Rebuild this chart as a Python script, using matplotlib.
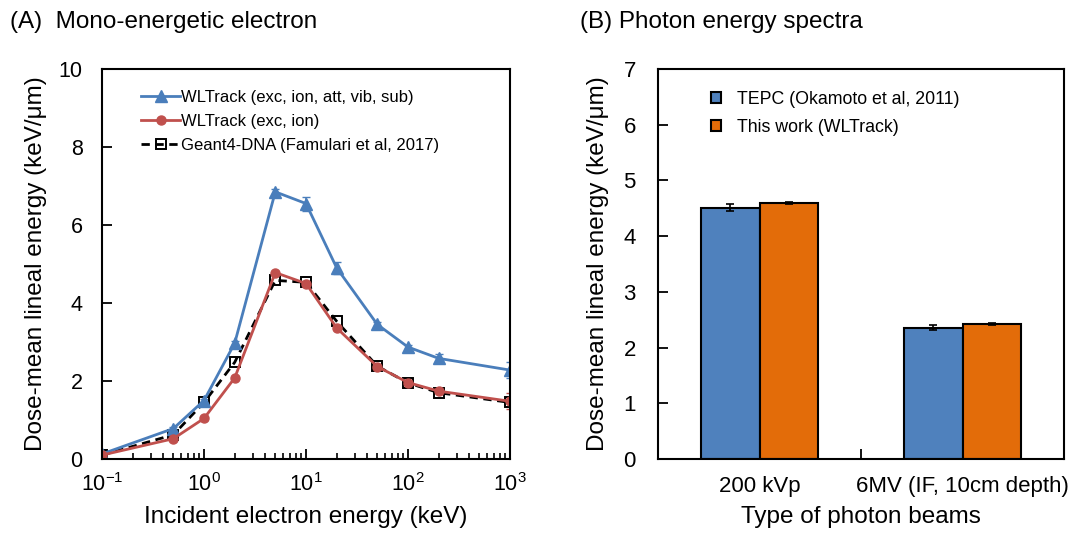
import matplotlib
matplotlib.use("Agg")
import matplotlib.pyplot as plt
import numpy as np
from matplotlib.ticker import LogLocator, NullFormatter
from matplotlib.lines import Line2D

plt.rcParams['font.family'] = ['Liberation Sans', 'DejaVu Sans']

# ---- Panel A data ----
energy_keV = [0.1, 0.5, 1, 2, 5, 10, 20, 50, 100, 200, 1000]
wl_full = [0.13, 0.78, 1.5, 2.97, 6.85, 6.55, 4.9, 3.45, 2.87, 2.58, 2.28]
wl_full_err = [0.02, 0.03, 0.05, 0.05, 0.08, 0.18, 0.15, 0.06, 0.06, 0.1, 0.2]
wl_exc_ion = [0.1, 0.52, 1.04, 2.08, 4.78, 4.5, 3.36, 2.37, 1.96, 1.74, 1.48]
wl_exc_ion_err = [0.02, 0.02, 0.03, 0.04, 0.05, 0.06, 0.06, 0.05, 0.05, 0.06, 0.2]
g4dna = [0.1, 0.62, 1.45, 2.48, 4.58, 4.53, 3.53, 2.38, 1.95, 1.7, 1.45]

# ---- Panel B data ----
beams = ["200 kVp", "6MV (IF, 10cm depth)"]
tepc = [4.51, 2.36]
tepc_err = [0.06, 0.05]
wltrack = [4.6, 2.43]
wltrack_err = [0.02, 0.02]

blue = "#4A7EBB"
red = "#C0504D"
bar_blue = "#4F81BD"
bar_orange = "#E36C09"

fig = plt.figure(figsize=(10.83, 5.33), dpi=100)
axA = fig.add_axes([102/1083, 1 - 459/533, 408/1083, 390/533])
axB = fig.add_axes([658/1083, 1 - 459/533, 406/1083, 390/533])

# Panel A
labels_A = ["WLTrack (exc, ion, att, vib, sub)", "WLTrack (exc, ion)",
            "Geant4-DNA (Famulari et al, 2017)"]
axA.errorbar(energy_keV, wl_full, yerr=wl_full_err, color=blue, marker='^', ms=9,
             lw=2, capsize=3, elinewidth=1.2)
axA.errorbar(energy_keV, wl_exc_ion, yerr=wl_exc_ion_err, color=red, marker='o', ms=6.5,
             lw=2, capsize=3, elinewidth=1.2)
axA.plot(energy_keV, g4dna, color='black', ls=(0, (3, 2)), lw=2, marker='s', ms=7,
         mfc='none', mec='black', mew=1.4)
handles_A = [
    Line2D([], [], color=blue, marker='^', ms=9, lw=2),
    Line2D([], [], color=red, marker='o', ms=6.5, lw=2),
    Line2D([], [], color='black', ls=(0, (3, 2)), lw=2, marker='s', ms=7,
           mfc='none', mec='black', mew=1.4),
]
axA.set_xscale('log')
axA.set_xlim(0.1, 1000)
axA.set_ylim(0, 10)
axA.set_yticks([0, 2, 4, 6, 8, 10])
axA.xaxis.set_minor_locator(LogLocator(base=10, subs=np.arange(2, 10), numticks=20))
axA.xaxis.set_minor_formatter(NullFormatter())
axA.tick_params(axis='y', which='major', direction='in', length=7, width=1.3,
                labelsize=15.5, pad=14)
axA.tick_params(axis='x', which='major', direction='in', length=7, width=1.3,
                labelsize=15.5, pad=10)
axA.tick_params(axis='x', which='minor', direction='in', length=4, width=1.2)
axA.set_xlabel("Incident electron energy (keV)", fontsize=17.5, labelpad=7)
axA.set_ylabel("Dose-mean lineal energy (keV/μm)", fontsize=17.5, labelpad=8)
axA.legend(handles_A, labels_A, loc='upper left', bbox_to_anchor=(0.06, 0.985),
           frameon=False, fontsize=12, handlelength=2.3, handletextpad=0.1,
           labelspacing=0.55)

# Panel B
x = np.arange(len(beams))
w = 0.286
axB.bar(x - w/2, tepc, w, yerr=tepc_err, color=bar_blue, edgecolor='black', lw=1.5,
        capsize=3, error_kw=dict(elinewidth=1.2, capthick=1.2), label="TEPC (Okamoto et al, 2011)")
axB.bar(x + w/2, wltrack, w, yerr=wltrack_err, color=bar_orange, edgecolor='black', lw=1.5,
        capsize=3, error_kw=dict(elinewidth=1.2, capthick=1.2), label="This work (WLTrack)")
axB.set_xlim(-0.5, 1.5)
axB.set_ylim(0, 7)
axB.set_xticks(x)
axB.set_xticklabels(beams)
axB.set_xticks([0.5], minor=True)
axB.tick_params(axis='x', which='major', length=0, labelsize=16, pad=12)
axB.tick_params(axis='x', which='minor', direction='in', length=7, width=1.3)
axB.tick_params(axis='y', which='major', direction='in', length=7, width=1.3,
                labelsize=16, pad=16)
axB.set_xlabel("Type of photon beams", fontsize=17.5, labelpad=7)
axB.set_ylabel("Dose-mean lineal energy (keV/μm)", fontsize=17.5, labelpad=10)
axB.legend(loc='upper left', bbox_to_anchor=(0.09, 0.985), frameon=False, fontsize=12.8,
           handlelength=0.6, handleheight=0.6, handletextpad=0.9, labelspacing=0.6)

for ax in (axA, axB):
    for s in ax.spines.values():
        s.set_linewidth(1.5)

fig.text(10/1083, 1 - 22/533, "(A)  Mono-energetic electron", fontsize=17.5, va='center')
fig.text(580/1083, 1 - 22/533, "(B) Photon energy spectra", fontsize=17.5, va='center')

fig.savefig("out.png", dpi=100)
